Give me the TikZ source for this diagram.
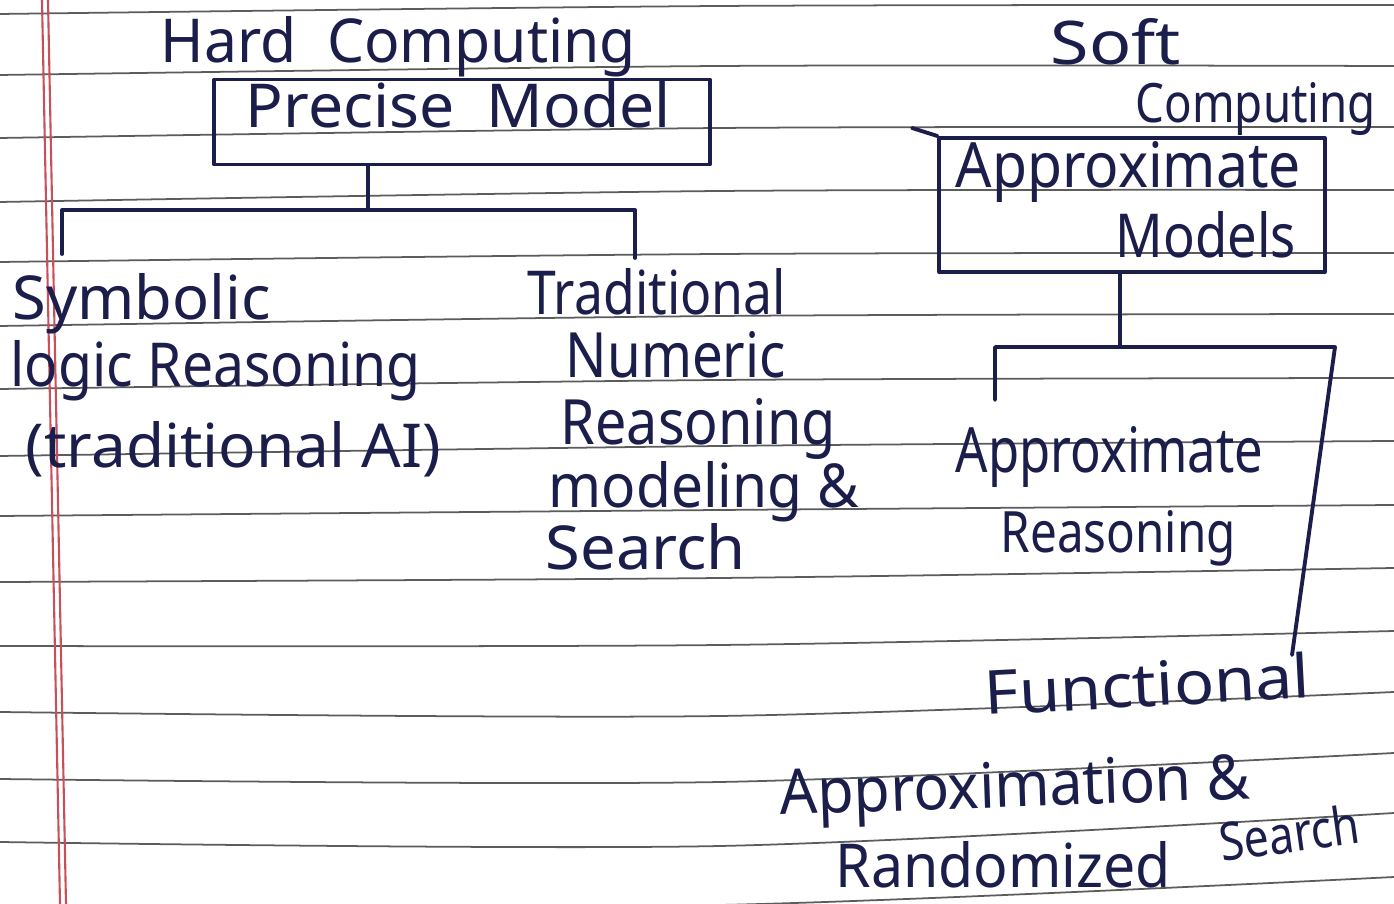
\documentclass[tikz,border=0pt]{standalone}
\usepackage{graphicx}
\usepackage{fontspec}
\setmainfont{Noto Sans}
\definecolor{ink}{HTML}{1B1E4B}
\definecolor{rulegray}{HTML}{5C5C5C}
\definecolor{margred}{HTML}{C8505A}
\tikzset{ink/.style = {draw=ink, line width = 1.1pt, line cap = round, line join = round}}
\tikzset{ruled/.style = {draw=rulegray, line width = 0.5pt}}
\tikzset{margin/.style = {draw=margred, line width = 0.6pt}}
\tikzset{hand/.style = {text=ink, inner sep = 0, anchor = base west}}
\tikzset{modelbox/.style = {ink, inner sep = 0}}
\newcommand{\handw}[3][0.46]{\resizebox{#2cm}{#1cm}{#3}}

\begin{document}
\begin{tikzpicture}[x=0.01cm, y=-0.01cm]
% \draw [gray] (0, 0) grid [step=100] (1394, 904);
      \useasboundingbox (0, 0) rectangle (1394, 904);
      \fill [white] (0, 0) rectangle (1394, 904);

      % ruled paper
      \foreach \a/\b/\c in {14/6/5, 75/66/66, 138/128/127, 202/191/190, 262/254/253,
          326/316/314, 389/380/378, 456/446/441, 516/510/505, 582/578/568,
          646/645/631, 712/716/692, 779/782/753, 842/846/813, 905/905/877}
        \draw [ruled] plot [smooth] coordinates {(0, \a) (720, \b) (1394, \c)};
      \draw [margin] (42, 0) -- (60, 904);
      \draw [margin] (48, 0) -- (66, 904);

      % hard computing
      \node [hand] (hard) at (160, 63) {\handw{4.75}{Hard\ \ Computing}};
      \node [modelbox, minimum width = 4.95cm, minimum height = 0.85cm] (pm) at (462, 122) {};
      \node [hand] (pmt) at (245, 128) {\handw{4.25}{Precise\ \ Model}};

      \coordinate (hj) at (368, 210);
      \coordinate (lt) at (62, 254);
      \coordinate (rt) at (635, 258);
      \draw [ink] (pm.south -| hj) -- (hj);
      \draw [ink] (lt) |- (hj) -| (rt);

      \node [hand] (sym1) at (12, 320) {\handw{2.58}{Symbolic}};
      \node [hand] (sym2) at (10, 387) {\handw{4.10}{logic Reasoning}};
      \node [hand] (sym3) at (25, 468) {\handw{4.15}{(traditional AI)}};

      \node [hand] (num1) at (527, 315) {\handw{2.58}{Traditional}};
      \node [hand] (num2) at (565, 378) {\handw{2.20}{Numeric}};
      \node [hand] (num3) at (560, 445) {\handw{2.75}{Reasoning}};
      \node [hand] (num4) at (548, 508) {\handw{3.10}{modeling \&}};
      \node [hand] (num5) at (545, 570) {\handw{2.00}{Search}};

      % soft computing
      \node [hand] (soft1) at (1050, 65) {\handw{1.30}{Soft}};
      \node [hand] (soft2) at (1135, 123) {\handw[0.40]{2.40}{Computing}};
      \node [modelbox, minimum width = 3.85cm, minimum height = 1.34cm] (am) at (1132, 205) {};
      \node [hand] (amt1) at (955, 188) {\handw{3.45}{Approximate}};
      \node [hand] (amt2) at (1115, 258) {\handw{1.80}{Models}};
      \coordinate (amx) at (912, 128);
      \draw [ink] (amx) -- (am.north west);

      \coordinate (sj) at (1120, 347);
      \coordinate (sc) at (1335, 347);
      \coordinate (al) at (995, 400);
      \coordinate (ar) at (1292, 655);
      \draw [ink] (am.south -| sj) -- (sj);
      \draw [ink] (al) |- (sc) -- (ar);

      \node [hand] (apr1) at (955, 473) {\handw{3.07}{Approximate}};
      \node [hand] (apr2) at (1000, 553) {\handw[0.42]{2.35}{Reasoning}};

      \node [hand, rotate = 3] (fun1) at (985, 715) {\handw{3.25}{Functional}};
      \node [hand, rotate = 2] (fun2) at (780, 815) {\handw{4.70}{Approximation \&}};
      \node [hand] (fun3) at (835, 888) {\handw{3.35}{Randomized}};
      \node [hand, rotate = 8] (fun4) at (1222, 862) {\handw[0.40]{1.40}{Search}};
    \end{tikzpicture}
\end{document}
